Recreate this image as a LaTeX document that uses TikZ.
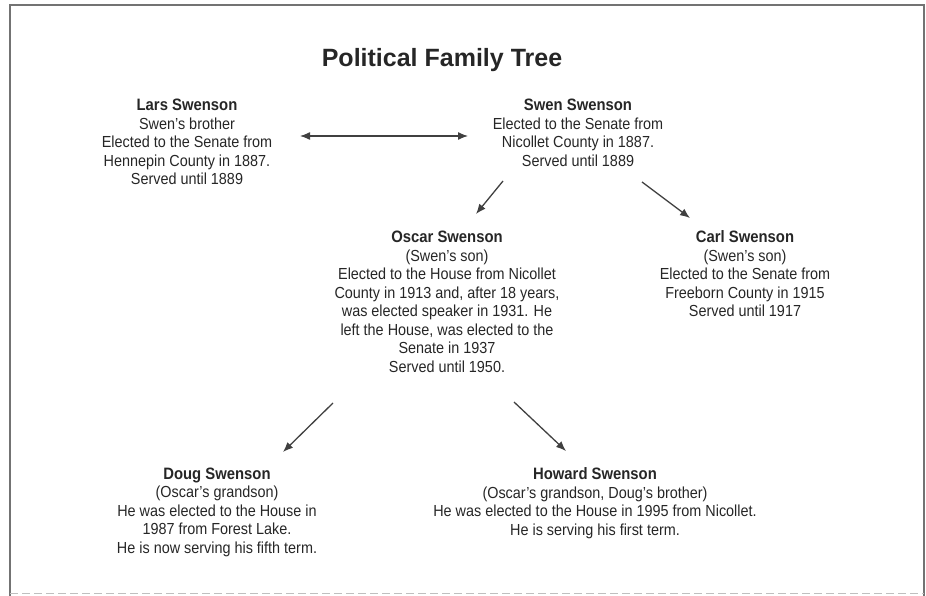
\documentclass[tikz,border=0pt]{standalone}
\usepackage{fontspec}
\setmainfont{Liberation Sans}[FakeStretch=0.9]
\newfontfamily\titlefont{Liberation Sans}
\usetikzlibrary{arrows.meta,positioning}

\tikzset{
  person/.style={align=center, inner sep=1pt, text=black!85,
    font=\fontsize{16}{18.5}\selectfont},
  link/.style={-{Latex[length=10pt,width=8pt]}, line width=1.3pt, draw=black!75},
  frame/.style={draw=black!55, line width=1.2pt}
}
\newcommand{\who}[1]{{\fontsize{16.5}{18.5}\selectfont\bfseries #1}}

\begin{document}
\begin{tikzpicture}[x=1pt,y=-1pt]
   \useasboundingbox (0,0) rectangle (926,596);
   \draw[frame] (10,596) -- (10,5) -- (924,5) -- (924,596);
   \draw[black!25, dash pattern=on 8pt off 4pt] (10,593) -- (924,593);

   \node[text=black!85, font=\titlefont\fontsize{25}{27}\selectfont\bfseries] (title) at (442,60) {Political Family Tree};

   \node[person] (lars) at (187,142) {\who{Lars Swenson}\\Swen's brother\\Elected to the Senate from\\Hennepin County in 1887.\\Served until 1889};
   \node[person] (swen) at (578,133) {\who{Swen Swenson}\\Elected to the Senate from\\Nicollet County in 1887.\\Served until 1889};
   \node[person] (oscar) at (447,302) {\who{Oscar Swenson}\\(Swen's son)\\Elected to the House from Nicollet\\County in 1913 and, after 18 years,\\was elected speaker in 1931. He\\left the House, was elected to the\\Senate in 1937\\Served until 1950.};
   \node[person] (carl) at (745,274) {\who{Carl Swenson}\\(Swen's son)\\Elected to the Senate from\\Freeborn County in 1915\\Served until 1917};
   \node[person] (doug) at (217,512) {\who{Doug Swenson}\\(Oscar's grandson)\\He was elected to the House in\\1987 from Forest Lake.\\He is now serving his fifth term.};
   \node[person] (howard) at (595,503) {\who{Howard Swenson}\\(Oscar's grandson, Doug's brother)\\He was elected to the House in 1995 from Nicollet.\\He is serving his first term.};

   % brothers
   \draw[link, {Latex[length=10pt,width=8pt]}-{Latex[length=10pt,width=8pt]}]
      ([shift={(113,-6)}]lars.center) -- ([shift={(-110,3)}]swen.center);
   % sons
   \draw[link] ([shift={(-75,48)}]swen.center) -- ([shift={(29,-88)}]oscar.center);
   \draw[link] ([shift={(64,49)}]swen.center) -- ([shift={(-55,-56)}]carl.center);
   % grandsons
   \draw[link] ([shift={(-114,101)}]oscar.center) -- ([shift={(66,-60)}]doug.center);
   \draw[link] ([shift={(67,100)}]oscar.center) -- ([shift={(-29,-52)}]howard.center);
\end{tikzpicture}
\end{document}
